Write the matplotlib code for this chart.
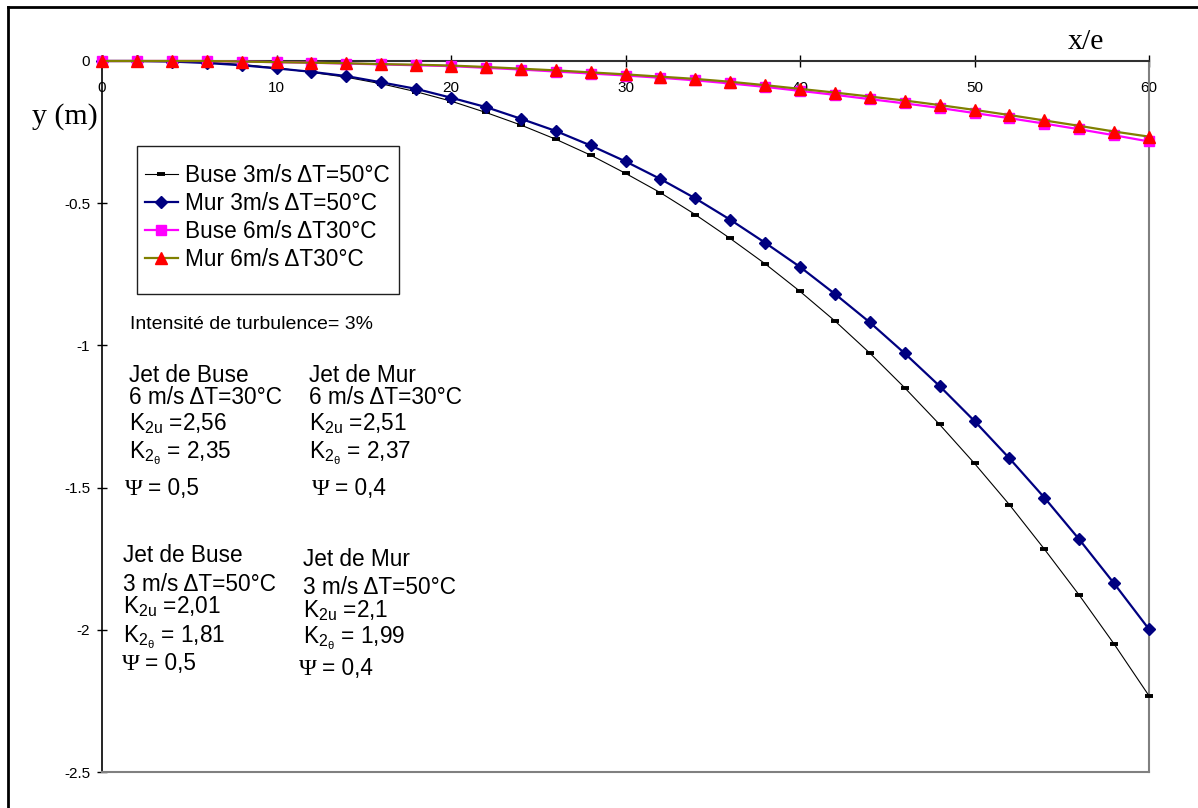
import numpy as np
import matplotlib
matplotlib.use("Agg")
import matplotlib.pyplot as plt
from matplotlib.patches import Rectangle

plt.rcParams['font.family'] = ['Liberation Sans', 'DejaVu Sans']
plt.rcParams['mathtext.fontset'] = 'custom'
plt.rcParams['mathtext.rm'] = 'Liberation Sans'
plt.rcParams['mathtext.it'] = 'Liberation Sans'

# x/e positions
x_e = [0, 2, 4, 6, 8, 10, 12, 14, 16, 18, 20, 22, 24, 26, 28, 30,
       32, 34, 36, 38, 40, 42, 44, 46, 48, 50, 52, 54, 56, 58, 60]

buse_3 = [0, 0, -0.001, -0.005, -0.012, -0.024, -0.040, -0.057, -0.080, -0.108,
          -0.141, -0.181, -0.225, -0.275, -0.331, -0.395, -0.463, -0.540, -0.624,
          -0.713, -0.810, -0.914, -1.027, -1.149, -1.278, -1.415, -1.560, -1.716,
          -1.878, -2.050, -2.232]
mur_3 = [0, 0, -0.002, -0.007, -0.015, -0.026, -0.038, -0.053, -0.075, -0.098,
         -0.129, -0.162, -0.203, -0.246, -0.297, -0.353, -0.415, -0.483, -0.558,
         -0.639, -0.724, -0.819, -0.919, -1.028, -1.143, -1.266, -1.397, -1.535,
         -1.682, -1.837, -1.998]
buse_6 = [0, 0, 0, 0, -0.002, -0.004, -0.006, -0.009, -0.012, -0.015,
          -0.018, -0.024, -0.030, -0.037, -0.044, -0.051, -0.059, -0.068, -0.079,
          -0.091, -0.105, -0.119, -0.134, -0.149, -0.165, -0.183, -0.201, -0.220,
          -0.240, -0.261, -0.283]
mur_6 = [0, 0, 0, 0, -0.002, -0.004, -0.006, -0.008, -0.011, -0.013,
         -0.016, -0.021, -0.027, -0.033, -0.040, -0.047, -0.055, -0.063, -0.073,
         -0.085, -0.098, -0.111, -0.125, -0.139, -0.155, -0.172, -0.190, -0.209,
         -0.228, -0.248, -0.266]

labels = ["Buse 3m/s \u0394T=50°C", "Mur 3m/s \u0394T=50°C",
          "Buse 6m/s \u0394T30°C", "Mur 6m/s \u0394T30°C"]

x_ticks = [0, 10, 20, 30, 40, 50, 60]
y_ticks = [0, -0.5, -1, -1.5, -2, -2.5]
y_tick_labels = ["0", "-0.5", "-1", "-1.5", "-2", "-2.5"]

W, H = 1198, 808
fig = plt.figure(figsize=(W / 100, H / 100), dpi=100)

# outer chart frame (only left/top visible in the reference)
fig.add_artist(plt.Line2D([8 / W, 8 / W], [0, 1 - 7 / H], color='black', lw=2))
fig.add_artist(plt.Line2D([8 / W, 1], [1 - 7 / H, 1 - 7 / H], color='black', lw=2))

ax = fig.add_axes([102 / W, 1 - 772 / H, (1149 - 102) / W, (772 - 61) / H])


def px(x, y):
    # pixel position in the figure -> axes fraction
    return (x - 102) / 1047, (772 - y) / 711


ax.plot(x_e, buse_3, color='black', lw=0.8, marker='_', ms=6, mew=2.8,
        label=labels[0], clip_on=False, zorder=3)
ax.plot(x_e, mur_3, color='#000080', lw=1.6, marker='D', ms=6.5,
        label=labels[1], clip_on=False, zorder=4)
ax.plot(x_e, buse_6, color='#FF00FF', lw=1.6, marker='s', ms=7,
        label=labels[2], clip_on=False, zorder=5)
ax.plot(x_e, mur_6, color='#808000', lw=1.6, marker='^', ms=8,
        mfc='#FF0000', mec='#FF0000', label=labels[3], clip_on=False, zorder=6)

ax.set_xlim(0, 60)
ax.set_ylim(-2.5, 0)

for s in ['right', 'bottom']:
    ax.spines[s].set_color('#808080')
    ax.spines[s].set_linewidth(1.5)
ax.spines['left'].set_color('black')
ax.spines['left'].set_linewidth(1.2)
ax.spines['top'].set_color('#303030')
ax.spines['top'].set_linewidth(1.5)

ax.set_xticks(x_ticks)
ax.set_xticklabels([str(v) for v in x_ticks])
ax.tick_params(axis='x', top=True, bottom=False, labeltop=True, labelbottom=False,
               direction='inout', length=8.6, width=1, pad=-29, labelsize=11)
ax.set_yticks(y_ticks)
ax.set_yticklabels(y_tick_labels)
ax.tick_params(axis='y', direction='inout', length=7, width=1, pad=5,
               labelsize=11)

ax.text(55.36, 0.042, "x/e", family='Liberation Serif', fontsize=21.5,
        va='baseline', ha='left', clip_on=False)
ax.text(-4.01, -0.2215, "y (m)", family='Liberation Serif', fontsize=21.5,
        va='baseline', ha='left', clip_on=False)

# legend box drawn separately so the padding matches the reference
x0, y0 = px(137, 294)
x1, y1 = px(399, 146)
ax.add_patch(Rectangle((x0, y0), x1 - x0, y1 - y0, transform=ax.transAxes,
                       fill=True, facecolor='white', edgecolor='#202020', lw=1,
                       zorder=7))
leg = ax.legend(loc='upper left', bbox_to_anchor=px(145, 164),
                fontsize=16.3, frameon=False,
                handlelength=1.45, handletextpad=0.3, labelspacing=0.22,
                borderpad=0, borderaxespad=0)
leg.set_zorder(8)

fs = 16.3
ax.text(1.60, -0.942, "Intensité de turbulence= 3%", fontsize=14, va='baseline')


def block(x, ys, psi_x, eq_x, title, cond, k2u, k2t, psi):
    ax.text(x, ys[0], title, fontsize=fs, va='baseline')
    ax.text(x, ys[1], cond, fontsize=fs, va='baseline')
    ax.text(x, ys[2], r"K$_{\mathrm{2u}}$ =" + k2u, fontsize=fs, va='baseline')
    ax.text(x, ys[3], r"K$_{2_{\theta}}$ = " + k2t, fontsize=fs, va='baseline')
    ax.text(psi_x, ys[4], "\u03a8", family='Liberation Serif', fontsize=17.5,
            va='baseline')
    ax.text(eq_x, ys[4], "= " + psi, fontsize=fs, va='baseline')


block(1.55, [-1.129, -1.206, -1.297, -1.396, -1.526], 1.32, 2.62,
      "Jet de Buse", "6 m/s \u0394T=30°C", "2,56", "2,35", "0,5")
block(11.86, [-1.129, -1.206, -1.297, -1.396, -1.526], 12.03, 13.33,
      "Jet de Mur", "6 m/s \u0394T=30°C", "2,51", "2,37", "0,4")
block(1.20, [-1.762, -1.864, -1.941, -2.043, -2.141], 1.15, 2.45,
      "Jet de Buse", "3 m/s \u0394T=50°C", "2,01", "1,81", "0,5")
block(11.52, [-1.776, -1.874, -1.955, -2.046, -2.159], 11.29, 12.59,
      "Jet de Mur", "3 m/s \u0394T=50°C", "2,1", "1,99", "0,4")

fig.savefig("out.png", dpi=100)
